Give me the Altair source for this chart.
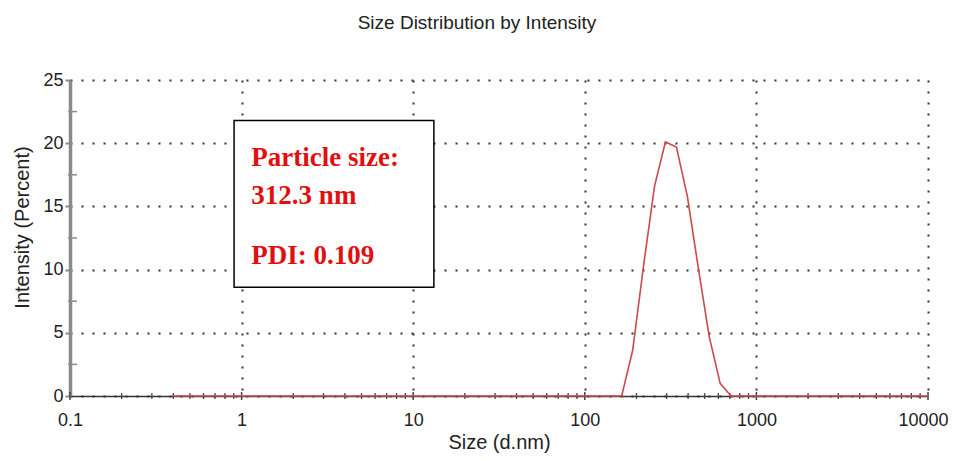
import altair as alt
import pandas as pd

# ---- data ----
sizes = [0.4, 164, 190, 220, 255, 295, 342, 396, 459, 531, 615, 712, 10000]
intensity = [0, 0, 3.6, 10.3, 16.6, 20.1, 19.7, 15.8, 10.1, 4.7, 1.0, 0, 0]

x_major = [0.1, 1, 10, 100, 1000, 10000]
x_minor = [m * d for d in [0.1, 1, 10, 100, 1000] for m in [2, 3, 4, 5, 6, 7, 8, 9]]
y_major = [0, 5, 10, 15, 20, 25]
y_minor = [2.5, 7.5, 12.5, 17.5, 22.5]

box = {"x": [0.904], "x2": [13.2], "y": [21.8], "y2": [8.6]}
notes_text = ["Particle size:", "312.3 nm", "PDI: 0.109"]
notes_x = [1.14, 1.14, 1.14]
notes_y = [18.2, 15.17, 10.44]

W, H = 858, 316

df = pd.DataFrame({"size": sizes, "intensity": intensity})
xs = alt.Scale(type="log", domain=[0.1, 10000])
ys = alt.Scale(domain=[0, 25])

xaxis = alt.Axis(values=x_major, format="~g", title="Size (d.nm)", grid=True,
                 gridDash=[2, 9], gridWidth=2, gridColor="#333",
                 domainColor="#333", domainWidth=1.5, ticks=False,
                 labelFont="Liberation Sans", labelFontSize=18, labelColor="#222",
                 labelPadding=15, labelFlush=False,
                 labelAlign={"condition": {"test": "datum.value >= 10000", "value": "right"}, "value": "center"},
                 labelOffset={"condition": {"test": "datum.value >= 10000", "value": 20}, "value": 0},
                 titleFont="Liberation Sans", titleFontSize=20, titleFontWeight="normal",
                 titleColor="#222", titlePadding=3)
yaxis = alt.Axis(values=y_major, title="Intensity (Percent)", grid=True,
                 gridDash=[2, 9], gridWidth=2, gridColor="#333",
                 domainColor="#8a8a8a", domainWidth=3.5, tickColor="#8a8a8a",
                 tickSize=5, tickWidth=2,
                 labelFont="Liberation Sans", labelFontSize=18, labelColor="#222",
                 labelPadding=2,
                 titleFont="Liberation Sans", titleFontSize=20, titleFontWeight="normal",
                 titleColor="#222", titleX=-48, titleY=147, titleBaseline="middle")

base = alt.Chart(df)

line = base.mark_line(color="#cc4a4a", strokeWidth=1.6).encode(
    x=alt.X("size:Q", scale=xs, axis=xaxis),
    y=alt.Y("intensity:Q", scale=ys, axis=yaxis),
)

xminor = alt.Chart(pd.DataFrame({"v": x_minor})).mark_rule(color="#444", strokeWidth=1.3).encode(
    x=alt.X("v:Q", scale=xs), y=alt.value(H - 3), y2=alt.value(H + 3))
xmajor = alt.Chart(pd.DataFrame({"v": x_major})).mark_rule(color="#444", strokeWidth=1.5).encode(
    x=alt.X("v:Q", scale=xs), y=alt.value(H - 4), y2=alt.value(H + 4))
yminor = alt.Chart(pd.DataFrame({"v": y_minor})).mark_rule(color="#8a8a8a", strokeWidth=1.5).encode(
    y=alt.Y("v:Q", scale=ys), x=alt.value(-2), x2=alt.value(7))

boxc = alt.Chart(pd.DataFrame(box)).mark_rect(fill="white", stroke="black", strokeWidth=1.5).encode(
    x=alt.X("x:Q", scale=xs), x2="x2:Q", y=alt.Y("y:Q", scale=ys), y2="y2:Q")

notes = alt.Chart(pd.DataFrame({"t": notes_text, "x": notes_x, "y": notes_y})).mark_text(
    font="Liberation Serif", fontWeight="bold", fontSize=27, color="#e01010",
    align="left", baseline="alphabetic").encode(
    x=alt.X("x:Q", scale=xs), y=alt.Y("y:Q", scale=ys), text="t:N")

chart = alt.layer(boxc, notes, xminor, xmajor, yminor, line).properties(
    width=W, height=H,
    title=alt.Title("Size Distribution by Intensity", font="Liberation Sans", fontSize=19,
                    fontWeight="normal", color="#222", dx=-22, offset=38),
    autosize=alt.AutoSizeParams(type="none"),
    padding={"left": 62, "top": 72, "right": 22, "bottom": 57},
).configure_view(stroke=None)

chart.save("out.html", embed_options={"renderer": "svg", "actions": False})
